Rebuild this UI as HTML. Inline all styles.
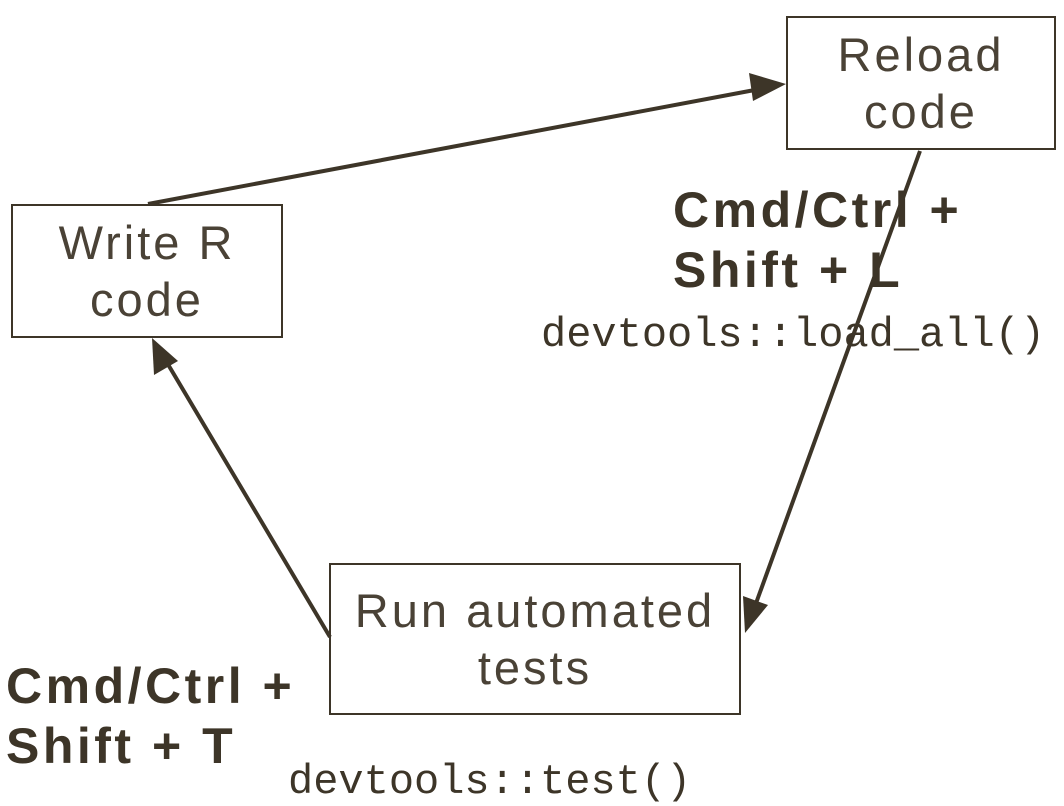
<!DOCTYPE html>
<html><head><meta charset="utf-8"><style>
html,body{margin:0;padding:0;background:#fff;}
body{width:1064px;height:804px;position:relative;overflow:hidden;}
.box{position:absolute;border:2px solid #3d3528;box-sizing:border-box;display:flex;align-items:center;justify-content:center;text-align:center;font-family:"Liberation Sans",sans-serif;font-size:47px;line-height:57px;letter-spacing:3px;color:#4a4236;font-weight:normal;}
.lbl{position:absolute;font-family:"Liberation Sans",sans-serif;font-weight:bold;font-size:50px;line-height:60px;letter-spacing:3.5px;color:#3d3528;}
.mono{position:absolute;font-family:"Liberation Mono",monospace;font-size:42px;color:#3d3528;line-height:1;}
svg{position:absolute;left:0;top:0;}
</style></head><body>
<div class="box" style="left:11px;top:204px;width:272px;height:134px;">Write R<br>code</div>
<div class="box" style="left:786px;top:16px;width:270px;height:134px;">Reload<br>code</div>
<div class="box" style="left:329px;top:563px;width:412px;height:152px;">Run automated<br>tests</div>
<div class="lbl" style="left:673px;top:180px;">Cmd/Ctrl +<br>Shift + L</div>
<div class="lbl" style="left:6px;top:656px;">Cmd/Ctrl +<br>Shift + T</div>
<div class="mono" style="left:541px;top:314px;">devtools::load_all()</div>
<div class="mono" style="left:288px;top:761px;">devtools::test()</div>
<svg width="1064" height="804">
<g stroke="#3d3528" stroke-width="4" fill="none">
<line x1="148" y1="204" x2="760" y2="89"/>
<line x1="920" y1="151" x2="755" y2="606"/>
<line x1="330" y1="637" x2="166" y2="361"/>
</g>
<g fill="#3d3528">
<polygon points="786,84 753,101 749,73"/>
<polygon points="745,633 743,596 768,605"/>
<polygon points="152,338 178,361 154,375"/>
</g>
</svg>
</body></html>
